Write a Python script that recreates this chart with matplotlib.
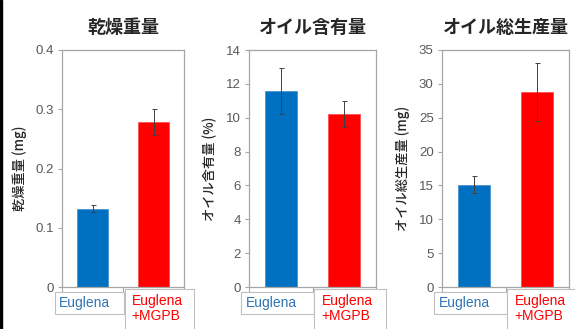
import matplotlib.pyplot as plt
from matplotlib.patches import Rectangle
import matplotlib.transforms as mtransforms

plt.rcParams['font.family'] = ['Liberation Sans', 'Noto Sans CJK JP', 'DejaVu Sans']

groups = ['Euglena', 'Euglena\n+MGPB']
group_colors = ['#0070C0', '#FF0000']
label_colors = ['#2E75B6', '#FF0000']

titles = ['乾燥重量', 'オイル含有量', 'オイル総生産量']
ylabels = ['乾燥重量 (mg)', 'オイル含有量 (%)', 'オイル総生産量 (mg)']

dry_weight = [0.132, 0.279]
dry_weight_err = [(0.127, 0.138), (0.257, 0.301)]
oil_content = [11.6, 10.2]
oil_content_err = [(10.2, 12.95), (9.45, 11.0)]
oil_total = [15.1, 28.8]
oil_total_err = [(13.9, 16.4), (24.5, 33.1)]

values = [dry_weight, oil_content, oil_total]
errors = [dry_weight_err, oil_content_err, oil_total_err]
ylims = [0.4, 14, 35]
ysteps = [0.1, 2, 5]
yfmt = ['{:.1f}', '{:.0f}', '{:.0f}']

fig = plt.figure(figsize=(5.75, 3.29), dpi=100)
fig.patches.append(Rectangle((0, 0), 2 / 575, 1, transform=fig.transFigure,
                             color='black', zorder=10))

lefts = [62, 249, 442]
widths = [122, 127, 127]
spine_c = '#A6A6A6'
tick_c = '#595959'
jp = ['Noto Sans CJK JP', 'DejaVu Sans']

for i in range(3):
    ax = fig.add_axes([lefts[i] / 575, 1 - 287 / 329, widths[i] / 575, 237 / 329])
    x = [0, 1]
    ax.bar(x, values[i], width=0.51, color=group_colors,
           edgecolor=['#4F93D0', '#FF5050'], linewidth=0.6, zorder=2)
    lo = [v - e[0] for v, e in zip(values[i], errors[i])]
    hi = [e[1] - v for v, e in zip(values[i], errors[i])]
    ax.errorbar(x, values[i], yerr=[lo, hi], fmt='none', ecolor='#404040',
                elinewidth=0.7, capsize=1.8, capthick=0.7, zorder=3)

    ax.set_xlim(-0.5, 1.5)
    ax.set_ylim(0, ylims[i])
    n = int(round(ylims[i] / ysteps[i]))
    ticks = [k * ysteps[i] for k in range(n + 1)]
    ax.set_yticks(ticks)
    ax.set_yticklabels(['0'] + [yfmt[i].format(t) for t in ticks[1:]])
    ax.set_xticks([-0.5, 0.5, 1.5])
    ax.set_xticklabels([])
    ax.tick_params(axis='y', direction='out', length=3, width=0.8, color=spine_c,
                   labelsize=9.5, labelcolor=tick_c, pad=3)
    ax.tick_params(axis='x', direction='out', length=4, width=0.8, color=spine_c)
    for s in ax.spines.values():
        s.set_color(spine_c)
        s.set_linewidth(0.9)

    ax.set_title(titles[i], fontsize=13, fontweight='bold', color='#262626',
                 family=jp, pad=12)
    ax.set_ylabel(ylabels[i], fontsize=9.5, color='#262626', family=jp,
                  fontweight='medium', labelpad=6)

    # category label boxes under the axis, in data-x / axes-y coordinates
    trans = mtransforms.blended_transform_factory(ax.transData, ax.transAxes)
    ax.add_patch(Rectangle((-0.62, -0.114), 1.14, 0.093, transform=trans,
                           facecolor='white', edgecolor='#BFBFBF', linewidth=0.8,
                           clip_on=False, zorder=5))
    ax.add_patch(Rectangle((0.53, -0.2), 1.13, 0.192, transform=trans,
                           facecolor='white', edgecolor='#BFBFBF', linewidth=0.8,
                           clip_on=False, zorder=5))
    ax.text(-0.14, -0.068, groups[0], transform=trans, ha='center', va='center',
            fontsize=10, color=label_colors[0], zorder=6)
    ax.text(0.64, -0.03, groups[1], transform=trans, ha='left', va='top',
            fontsize=10, color=label_colors[1], linespacing=1.05, zorder=6)

fig.savefig('out.png', dpi=100)
